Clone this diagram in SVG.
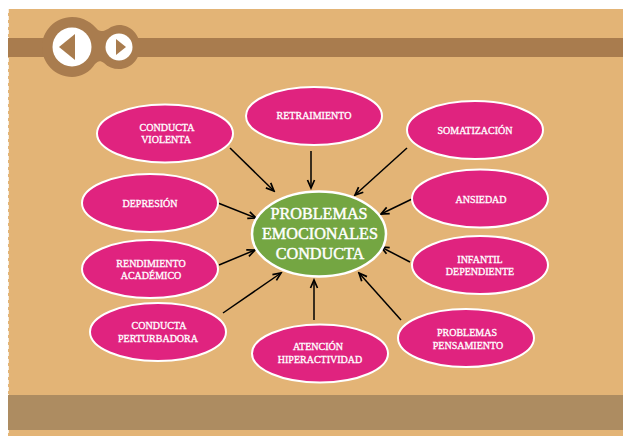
<svg xmlns="http://www.w3.org/2000/svg" width="623" height="436" viewBox="0 0 623 436">
<style>
.n{fill:#e0237f;stroke:#fff;stroke-width:2}
.t{font-family:"Liberation Serif",serif;font-size:10px;fill:#fff;text-anchor:middle;stroke:#fff;stroke-width:.3}
.c{font-size:16.2px;stroke-width:.45}
.a{stroke:#000;stroke-width:1.5;fill:none;marker-end:url(#ah)}
</style>
<defs>
<marker id="ah" markerUnits="userSpaceOnUse" markerWidth="12" markerHeight="10" refX="10" refY="5" orient="auto"><path d="M2 1.500L10 5L2 8.500" fill="none" stroke="#000" stroke-width="1.7"/></marker>
</defs>
<rect width="623" height="436" fill="#fff"/>
<rect x="8" y="9" width="615" height="427" fill="#e3b476"/>
<path d="M8 9V436" stroke="#fff" stroke-width="1.5" stroke-dasharray="4 3" fill="none"/>
<rect x="8" y="38" width="615" height="19" fill="#a97c4e"/>
<rect x="8" y="395" width="615" height="35" fill="#ad8c61"/>
<g id="nav">
<path d="M72 17C84 17 92 23 98 30C102 32 104 31 108 29C112 26 116 25 119 25C131 25 140 35 140 47C140 59 131 69 119 69C113 69 108 67 104 63C100 60 98 61 95 64C90 72 81 77 72 77C55 77 42 63 42 47C42 31 55 17 72 17Z" fill="#a97c4e"/>
<circle cx="72" cy="47" r="19.500" fill="#fff"/>
<path d="M75 34V60L59 47Z" fill="#a97c4e"/>
<circle cx="119" cy="47" r="13.500" fill="#fff"/>
<path d="M116 39V55L126 47Z" fill="#a97c4e"/>
</g>
<g id="connectors">
<path class="a" d="M230 148L274 191"/>
<path class="a" d="M311 151V188"/>
<path class="a" d="M407 148L355 195"/>
<path class="a" d="M218 203L256 218"/>
<path class="a" d="M412 199L381 214"/>
<path class="a" d="M219 265L255 250"/>
<path class="a" d="M410 262L381 247"/>
<path class="a" d="M223 313L281 273"/>
<path class="a" d="M314 320V280"/>
<path class="a" d="M401 320L359 273"/>
</g>
<g id="n-violenta"><ellipse class="n" cx="165" cy="133.500" rx="68" ry="29"/><text class="t" x="167" y="131">CONDUCTA</text><text class="t" x="166" y="143">VIOLENTA</text></g>
<g id="n-retraimiento"><ellipse class="n" cx="314" cy="116" rx="68" ry="29"/><text class="t" x="314" y="119">RETRAIMIENTO</text></g>
<g id="n-somatizacion"><ellipse class="n" cx="475" cy="130" rx="68" ry="29"/><text class="t" x="475" y="134">SOMATIZACIÓN</text></g>
<g id="n-depresion"><ellipse class="n" cx="150" cy="203" rx="68" ry="29"/><text class="t" x="150" y="207">DEPRESIÓN</text></g>
<g id="n-ansiedad"><ellipse class="n" cx="480" cy="198.500" rx="68" ry="29"/><text class="t" x="481" y="203">ANSIEDAD</text></g>
<g id="n-rendimiento"><ellipse class="n" cx="150" cy="269" rx="68" ry="29"/><text class="t" x="151" y="267">RENDIMIENTO</text><text class="t" x="151" y="279">ACADÉMICO</text></g>
<g id="n-infantil"><ellipse class="n" cx="480" cy="265" rx="68" ry="29"/><text class="t" x="480" y="263">INFANTIL</text><text class="t" x="480" y="275">DEPENDIENTE</text></g>
<g id="n-perturbadora"><ellipse class="n" cx="158" cy="332" rx="68" ry="29"/><text class="t" x="159" y="329">CONDUCTA</text><text class="t" x="158" y="342">PERTURBADORA</text></g>
<g id="n-atencion"><ellipse class="n" cx="320" cy="353.500" rx="68" ry="29"/><text class="t" x="318" y="350">ATENCIÓN</text><text class="t" x="320" y="363">HIPERACTIVIDAD</text></g>
<g id="n-pensamiento"><ellipse class="n" cx="466" cy="338" rx="68" ry="29"/><text class="t" x="467" y="336">PROBLEMAS</text><text class="t" x="468" y="349">PENSAMIENTO</text></g>
<g id="n-centro"><ellipse cx="319" cy="234" rx="67" ry="42.500" fill="#74a642" stroke="#fff" stroke-width="2.500"/><text class="t c" x="319" y="219">PROBLEMAS</text><text class="t c" x="320" y="239">EMOCIONALES</text><text class="t c" x="320" y="259">CONDUCTA</text></g>
</svg>
